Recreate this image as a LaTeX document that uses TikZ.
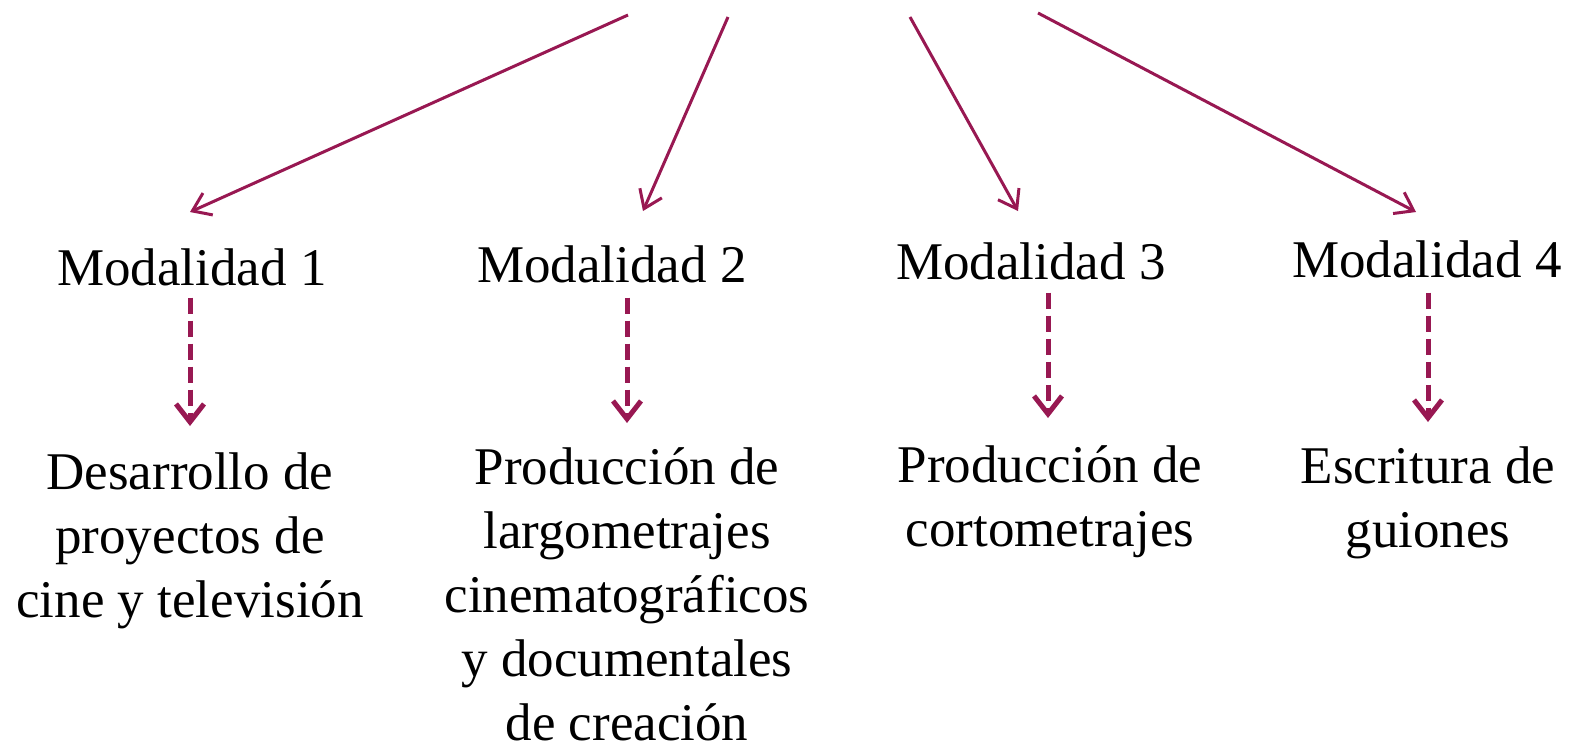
\documentclass[tikz,border=0pt]{standalone}
\usepackage{fontspec}
\setmainfont{Liberation Serif}
\usetikzlibrary{arrows.meta,calc}
\definecolor{wine}{RGB}{152,24,82}
\begin{document}
\begin{tikzpicture}[x=1pt,y=1pt,
  lbl/.style={font=\fontsize{53}{64}\selectfont, inner sep=0pt, align=center},
  toparrow/.style={draw=wine, line width=3pt, -{Straight Barb[length=17pt,width=24pt,line width=3pt]}},
  dasharrow/.style={draw=wine, line width=5pt, dash pattern=on 16pt off 7pt, -{Straight Barb[length=18pt,width=28pt,line width=5pt]}}]
\useasboundingbox (0,0) rectangle (1573,-744);
% top start points
\coordinate (s1) at (628,-15);
\coordinate (s2) at (728,-17);
\coordinate (s3) at (910,-17);
\coordinate (s4) at (1038,-13);
% Modalidad labels
\node[lbl, anchor=base] (m1) at (192,-285) {Modalidad 1};
\node[lbl, anchor=base] (m2) at (612,-282) {Modalidad 2};
\node[lbl, anchor=base] (m3) at (1031,-279) {Modalidad 3};
\node[lbl, anchor=base] (m4) at (1427,-277) {Modalidad 4};
% bottom texts
\node[lbl, anchor=north] (t1) at (190,-453) {Desarrollo de\\proyectos de\\cine y televisión};
\node[lbl, anchor=north] (t2) at (627,-447) {Producción de\\largometrajes\\cinematográficos\\y documentales\\de creación};
\node[lbl, anchor=north] (t3) at (1050,-445) {Producción de\\cortometrajes};
\node[lbl, anchor=north] (t4) at (1428,-447) {Escritura de\\guiones};
% top arrows
\draw[toparrow] (s1) -- ($(m1.north)+(-2,36)$);
\draw[toparrow] (s2) -- ($(m2.north -| t2.north)+(16,34)$);
\draw[toparrow] (s3) -- ($(m3.north)+(-13,31)$);
\draw[toparrow] (s4) -- ($(m4.north)+(-11,28)$);
% dashed arrows
\draw[dasharrow] ($(m1.south -| t1.north)+(0,-12)$) -- ($(t1.north)+(0,27)$);
\draw[dasharrow] ($(m2.south -| t2.north)+(0,-15)$) -- ($(t2.north)+(0,24)$);
\draw[dasharrow] ($(m3.south -| 1048,0)+(0,-13)$) -- ($(t3.north -| 1048,0)+(0,27)$);
\draw[dasharrow] ($(m4.south -| t4.north)+(0,-15)$) -- ($(t4.north)+(0,25)$);
\end{tikzpicture}
\end{document}
